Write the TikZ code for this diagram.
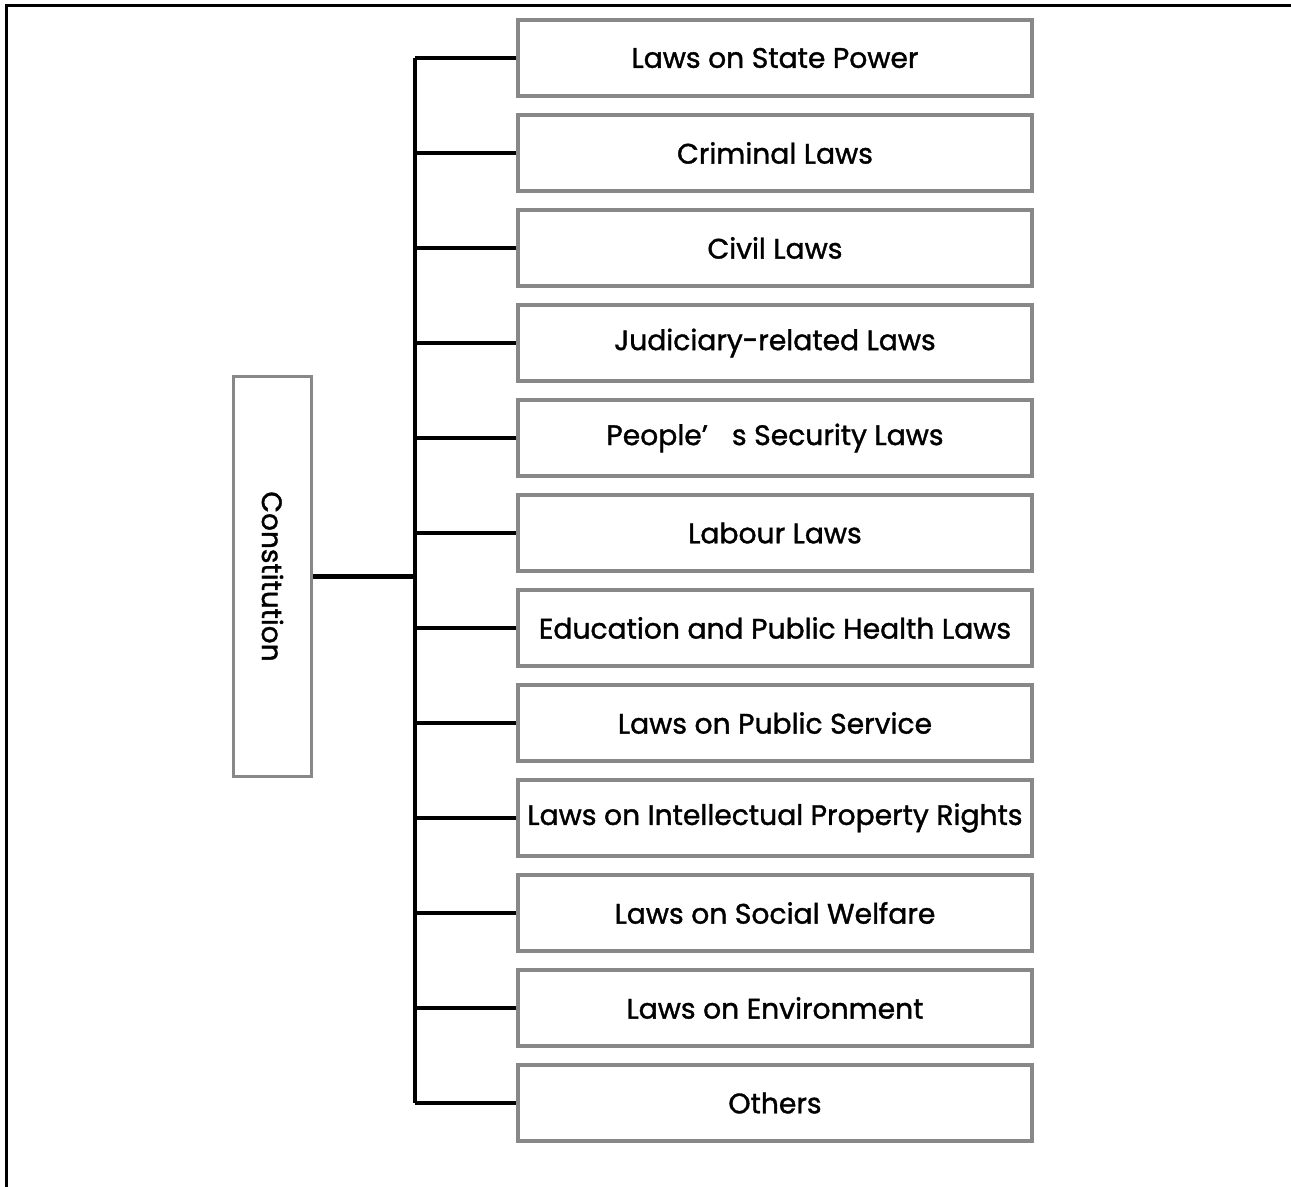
\documentclass[tikz,border=0pt]{standalone}
\usepackage{fontspec}
\setmainfont{Poppins}
\newfontfamily\lawfont{Poppins}[FakeBold=1.3]
\usepackage{tikz}
\usepackage{xcolor}

\definecolor{boxgray}{HTML}{888888}

\tikzset{
  lawbox/.style={draw=boxgray, line width=1.6pt, fill=white, minimum width=257pt, minimum height=38pt, inner sep=0pt, font=\lawfont\fontsize{14.1}{16}\selectfont},
  conn/.style={line width=2pt, black},
}

\begin{document}
\begin{tikzpicture}[x=0.5pt, y=-0.5pt]
        \useasboundingbox (0,0) rectangle (1291,1187);
        % Frame
        \draw[line width=1.5pt] (6,1187) -- (6,6) -- (1291,6);

        % Pieces
        \node[draw=boxgray, line width=1.6pt, rotate=-90, minimum width=200pt, minimum height=39pt, inner sep=0pt, font=\lawfont\fontsize{14}{16}\selectfont] (cons) at (272.5,576.5) {Constitution};
        \node[lawbox] (l1) at (775,58) {Laws on State Power};
        \node[lawbox] (l2) at (775,153) {Criminal Laws};
        \node[lawbox] (l3) at (775,248) {Civil Laws};
        \node[lawbox] (l4) at (775,343) {Judiciary-related Laws};
        \node[lawbox] (l5) at (775,438) {People’\hspace{12pt}s Security Laws};
        \node[lawbox] (l6) at (775,533) {Labour Laws};
        \node[lawbox] (l7) at (775,628) {Education and Public Health Laws};
        \node[lawbox] (l8) at (775,723) {Laws on Public Service};
        \node[lawbox] (l9) at (775,818) {Laws on Intellectual Property Rights};
        \node[lawbox] (l10) at (775,913) {Laws on Social Welfare};
        \node[lawbox] (l11) at (775,1008) {Laws on Environment};
        \node[lawbox] (l12) at (775,1103) {Others};
        \coordinate (jn) at (415,576.5);

        % Lines
        \draw[conn] (cons.north) -- (jn);
        \draw[conn] (l1.west -| jn) -- (l12.west -| jn);
        \draw[conn] (l1.west -| jn) -- (l1.west);
        \draw[conn] (l2.west -| jn) -- (l2.west);
        \draw[conn] (l3.west -| jn) -- (l3.west);
        \draw[conn] (l4.west -| jn) -- (l4.west);
        \draw[conn] (l5.west -| jn) -- (l5.west);
        \draw[conn] (l6.west -| jn) -- (l6.west);
        \draw[conn] (l7.west -| jn) -- (l7.west);
        \draw[conn] (l8.west -| jn) -- (l8.west);
        \draw[conn] (l9.west -| jn) -- (l9.west);
        \draw[conn] (l10.west -| jn) -- (l10.west);
        \draw[conn] (l11.west -| jn) -- (l11.west);
        \draw[conn] (l12.west -| jn) -- (l12.west);
    \end{tikzpicture}
\end{document}
